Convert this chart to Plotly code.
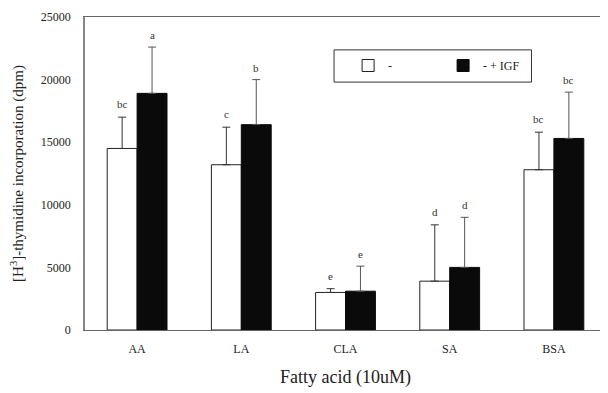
import plotly.graph_objects as go

categories = ["AA", "LA", "CLA", "SA", "BSA"]
control_vals = [14500, 13200, 3000, 3900, 12800]
control_err = [2500, 3000, 300, 4500, 3000]
igf_vals = [18900, 16400, 3100, 5000, 15300]
igf_err = [3700, 3600, 2000, 4000, 3700]
control_letters = ["bc", "c", "e", "d", "bc"]
igf_letters = ["a", "b", "e", "d", "bc"]
series_names = ["-", "- + IGF"]

serif = "Liberation Serif, Times New Roman, serif"

fig = go.Figure()
fig.add_trace(go.Bar(
    x=categories, y=control_vals, name=series_names[0],
    marker=dict(color="white", line=dict(color="#222", width=1)),
    error_y=dict(type="data", array=control_err, arrayminus=[0]*5, symmetric=False,
                 color="#333", thickness=1, width=4),
))
fig.add_trace(go.Bar(
    x=categories, y=igf_vals, name=series_names[1],
    marker=dict(color="#0a0a0a", line=dict(color="#0a0a0a", width=1)),
    error_y=dict(type="data", array=igf_err, arrayminus=[0]*5, symmetric=False,
                 color="#555", thickness=1, width=4),
))

for i, c in enumerate(categories):
    fig.add_annotation(x=c, y=control_vals[i] + control_err[i], text=control_letters[i],
                       xshift=-15, yshift=13, showarrow=False,
                       font=dict(family=serif, size=11, color="#333"))
    fig.add_annotation(x=c, y=igf_vals[i] + igf_err[i], text=igf_letters[i],
                       xshift=15, yshift=12, showarrow=False,
                       font=dict(family=serif, size=11, color="#333"))

# legend frame
fig.add_shape(type="rect", xref="paper", yref="paper",
              x0=0.478, x1=0.857, y0=0.792, y1=0.895,
              line=dict(color="#333", width=1), fillcolor="rgba(0,0,0,0)")

fig.update_layout(
    width=600, height=385,
    margin=dict(l=77, r=0, t=9, b=63),
    paper_bgcolor="white", plot_bgcolor="white",
    barmode="group", bargap=0.426, bargroupgap=0,
    font=dict(family=serif, color="#222"),
    showlegend=True,
    legend=dict(orientation="h", x=0.505, y=0.845, xanchor="left", yanchor="middle",
                borderwidth=0, bgcolor="rgba(0,0,0,0)",
                font=dict(family=serif, size=12), entrywidth=50, entrywidthmode="pixels",
                itemwidth=30),
    xaxis=dict(showline=True, linecolor="#666", linewidth=1, mirror=True,
               ticks="", ticklabelstandoff=8, tickfont=dict(family=serif, size=12),
               title=dict(text="Fatty acid (10uM)", font=dict(family=serif, size=18), standoff=14)),
    yaxis=dict(range=[0, 25000], dtick=5000, tickformat="d", showgrid=False,
               showline=True, linecolor="#888", linewidth=1.5, mirror=True,
               ticks="", ticklabelstandoff=10, tickfont=dict(family=serif, size=12), zeroline=False,
               title=dict(text="[H<sup>3</sup>]-thymidine incorporation (dpm)",
                          font=dict(family=serif, size=15), standoff=14)),
)

fig.write_html("out.html")
